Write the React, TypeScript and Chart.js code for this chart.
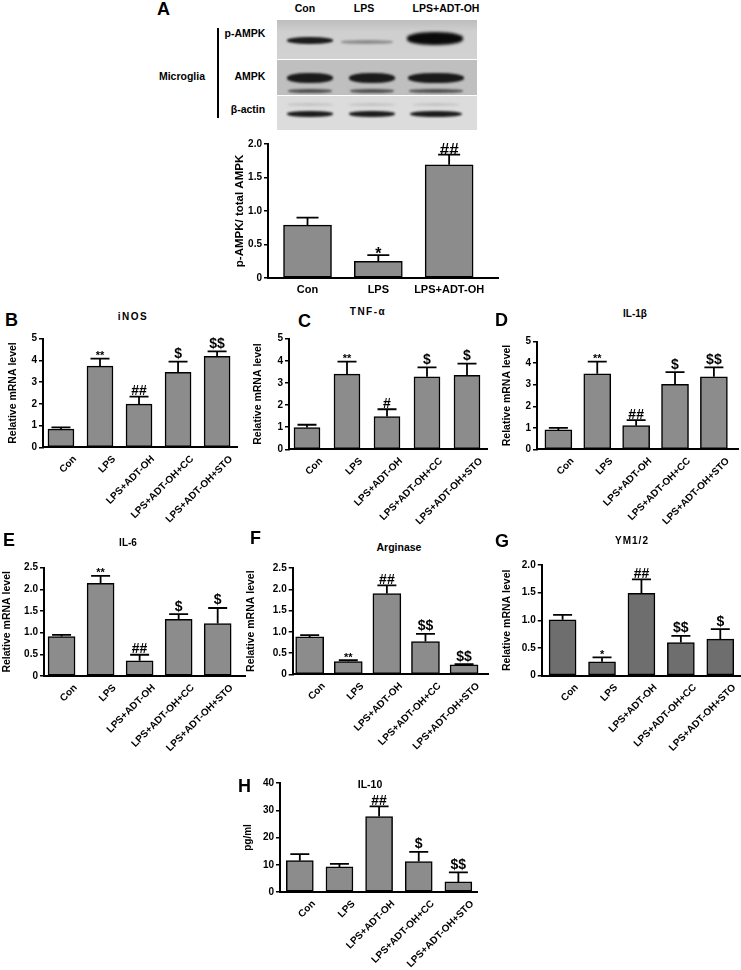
import React, { useEffect, useRef } from "react";
import { Chart, registerables } from "chart.js";

Chart.register(...registerables);

const FONT = "'Liberation Sans', Arial, Helvetica, sans-serif";
Chart.defaults.font.family = FONT;
Chart.defaults.color = "#000";

// ---------------- DATA ----------------
const blotLanes = ["Con", "LPS", "LPS+ADT-OH"];
const blotRows = ["p-AMPK", "AMPK", "β-actin"];

const groupsA = ["Con", "LPS", "LPS+ADT-OH"];
const pAmpkMean = [0.79, 0.25, 1.69];
const pAmpkSem = [0.11, 0.09, 0.15];
const pAmpkSig = ["", "*", "##"];
const ticksA = [0, 0.5, 1.0, 1.5, 2.0];
const tickTextA = ["0", "0.5", "1.0", "1.5", "2.0"];

const groups = ["Con", "LPS", "LPS+ADT-OH", "LPS+ADT-OH+CC", "LPS+ADT-OH+STO"];

const inosMean = [0.84, 3.74, 1.99, 3.45, 4.19];
const inosSem = [0.08, 0.34, 0.34, 0.49, 0.23];
const inosSig = ["", "**", "##", "$", "$$"];

const tnfMean = [0.98, 3.4, 1.48, 3.28, 3.34];
const tnfSem = [0.13, 0.56, 0.33, 0.42, 0.53];
const tnfSig = ["", "**", "#", "$", "$"];

const il1bMean = [0.9, 3.51, 1.1, 3.02, 3.37];
const il1bSem = [0.1, 0.56, 0.26, 0.57, 0.44];
const il1bSig = ["", "**", "##", "$", "$$"];

const il6Mean = [0.91, 2.14, 0.35, 1.31, 1.21];
const il6Sem = [0.04, 0.17, 0.14, 0.12, 0.36];
const il6Sig = ["", "**", "##", "$", "$"];

const argMean = [0.88, 0.3, 1.9, 0.77, 0.22];
const argSem = [0.04, 0.03, 0.19, 0.18, 0.02];
const argSig = ["", "**", "##", "$$", "$$"];

const ymMean = [1.01, 0.25, 1.49, 0.6, 0.66];
const ymSem = [0.09, 0.08, 0.25, 0.12, 0.18];
const ymSig = ["", "*", "##", "$$", "$"];

const il10Mean = [11.5, 9.2, 27.7, 11.2, 3.7];
const il10Sem = [2.4, 1.1, 3.7, 3.5, 3.5];
const il10Sig = ["", "", "##", "$", "$$"];

const ticks5 = [0, 1, 2, 3, 4, 5];
const tickText5 = ["0", "1", "2", "3", "4", "5"];
const ticks25 = [0, 0.5, 1.0, 1.5, 2.0, 2.5];
const tickText25 = ["0", "0.5", "1.0", "1.5", "2.0", "2.5"];
const ticks20 = [0, 0.5, 1.0, 1.5, 2.0];
const tickText20 = ["0", "0.5", "1.0", "1.5", "2.0"];
const ticks40 = [0, 10, 20, 30, 40];
const tickText40 = ["0", "10", "20", "30", "40"];

// ---------------- COMPONENTS ----------------
type Box = { cl: number; ct: number; cr: number; cb: number; pl: number; pr: number; pt: number; pb: number };

type PanelProps = {
  labels: string[];
  mean: number[];
  sem: number[];
  sig: string[];
  ticks: number[];
  tickText: string[];
  yTitle: string;
  yTitleSize: number;
  box: Box;
  xMin: number;
  xMax: number;
  barW: number;
  capHalf: number;
  color: string;
  rotate: number;
  xFont: number;
  xPad: number;
  xOffset: number;
  starFont: number;
  hashFont: number;
  dollarFont: number;
  gap: number;
};

function BarPanel(p: PanelProps) {
  const ref = useRef<HTMLCanvasElement>(null);
  const { cl, ct, cr, cb } = p.box;
  useEffect(() => {
    const { cl, ct, cr, cb, pl, pr, pt, pb } = p.box;
    const xAxisBottom = cb;
    const errPlugin = {
      id: "errAnn",
      afterDatasetsDraw(chart: any) {
        const ctx = chart.ctx;
        const meta = chart.getDatasetMeta(0);
        const ys = chart.scales.y;
        ctx.save();
        ctx.strokeStyle = "#000";
        ctx.fillStyle = "#000";
        ctx.lineWidth = 1.8;
        meta.data.forEach((bar: any, i: number) => {
          const x = bar.x;
          const top = bar.y;
          const et = ys.getPixelForValue(p.mean[i] + p.sem[i]);
          ctx.beginPath();
          ctx.moveTo(x, top);
          ctx.lineTo(x, et);
          ctx.moveTo(x - p.capHalf, et);
          ctx.lineTo(x + p.capHalf, et);
          ctx.stroke();
          const s = p.sig[i];
          if (s) {
            const fs = s.includes("*") ? p.starFont : s.includes("#") ? p.hashFont : p.dollarFont;
            ctx.font = `bold ${fs}px ${FONT}`;
            ctx.textAlign = "center";
            ctx.textBaseline = "alphabetic";
            const m = ctx.measureText(s);
            const g = s.includes("*") ? p.gap + 1 : p.gap;
            const base = et - g - m.actualBoundingBoxDescent;
            ctx.fillText(s, x, base);
          }
        });
        ctx.restore();
      },
    };
    const chart = new Chart(ref.current as HTMLCanvasElement, {
      type: "bar",
      data: {
        datasets: [
          {
            data: p.mean.map((v, i) => ({ x: i, y: v })),
            backgroundColor: p.color,
            borderColor: "#000",
            borderWidth: 1.5,
            borderSkipped: false,
            barThickness: p.barW,
          } as any,
        ],
      },
      options: {
        responsive: false,
        animation: false,
        events: [],
        layout: { padding: { left: 0, top: pt - ct, right: cr - pr, bottom: 0 } },
        plugins: { legend: { display: false }, tooltip: { enabled: false } },
        scales: {
          x: {
            type: "linear",
            min: p.xMin,
            max: p.xMax,
            offset: false,
            afterBuildTicks: (s: any) => {
              s.ticks = p.labels.map((_, i) => ({ value: i }));
            },
            afterFit: (s: any) => {
              s.height = xAxisBottom - pb;
            },
            grid: { display: false, drawTicks: false, offset: false },
            border: { display: true, color: "#000", width: 2 },
            ticks: {
              autoSkip: false,
              maxRotation: p.rotate,
              minRotation: p.rotate,
              padding: p.xPad,
              labelOffset: p.xOffset,
              color: "#000",
              font: { family: FONT, size: p.xFont, weight: "bold" },
              callback: (v: any) => p.labels[Math.round(Number(v))] ?? "",
            },
          },
          y: {
            min: 0,
            max: p.ticks[p.ticks.length - 1],
            afterBuildTicks: (s: any) => {
              s.ticks = p.ticks.map((v) => ({ value: v }));
            },
            afterFit: (s: any) => {
              s.width = pl - cl;
            },
            grid: { drawOnChartArea: false, drawTicks: true, tickLength: 4, color: "#000", lineWidth: 1.5 },
            border: { display: true, color: "#000", width: 2 },
            ticks: {
              padding: 2,
              color: "#000",
              font: { family: FONT, size: 10, weight: "bold" },
              callback: (v: any) => {
                const idx = p.ticks.findIndex((t) => Math.abs(t - Number(v)) < 1e-9);
                return idx >= 0 ? p.tickText[idx] : "";
              },
            },
            title: {
              display: true,
              text: p.yTitle,
              color: "#000",
              padding: 0,
              font: { family: FONT, size: p.yTitleSize, weight: "bold" },
            },
          },
        },
      } as any,
      plugins: [errPlugin],
    });
    return () => chart.destroy();
  }, []);
  return (
    <canvas
      ref={ref}
      width={cr - cl}
      height={cb - ct}
      style={{ position: "absolute", left: cl, top: ct, width: cr - cl, height: cb - ct }}
    />
  );
}

function T(props: { x: number; y: number; text: string; size: number; spacing?: number; align?: "center" | "left" }) {
  const { x, y, text, size, spacing = 0, align = "center" } = props;
  return (
    <div
      style={{
        position: "absolute",
        left: x,
        top: y,
        transform: align === "center" ? "translate(-50%, -50%)" : "translate(0, -50%)",
        fontFamily: FONT,
        fontWeight: "bold",
        fontSize: size,
        lineHeight: 1,
        letterSpacing: spacing,
        whiteSpace: "nowrap",
        color: "#000",
      }}
    >
      {text}
    </div>
  );
}

function Band(props: { cx: number; cy: number; w: number; h: number; c: string; blur?: number }) {
  const { cx, cy, w, h, c, blur = 1.2 } = props;
  return (
    <div
      style={{
        position: "absolute",
        left: cx - w / 2,
        top: cy - h / 2,
        width: w,
        height: h,
        background: c,
        borderRadius: "45%",
        filter: `blur(${blur}px)`,
      }}
    />
  );
}

function Blot() {
  const laneX = [310, 372, 436];
  const headerX = [305, 364, 446];
  const rowY = [33, 76, 109];
  const rowLabelX = [245, 250, 248];
  return (
    <>
      <T x={157} y={9} text="A" size={18} align="left" />
      {blotLanes.map((l, i) => (
        <T key={l} x={headerX[i]} y={8} text={l} size={10.5} />
      ))}
      {blotRows.map((r, i) => (
        <T key={r} x={rowLabelX[i]} y={rowY[i]} text={r} size={10.5} />
      ))}
      <T x={182} y={76} text="Microglia" size={10.5} />
      <div style={{ position: "absolute", left: 217, top: 28, width: 2, height: 90, background: "#000" }} />
      <div
        style={{
          position: "absolute",
          left: 277,
          top: 20,
          width: 200,
          height: 39,
          background: "linear-gradient(180deg, #bdbdbd 0%, #cfcfcf 30%, #d2d2d2 100%)",
        }}
      />
      <div style={{ position: "absolute", left: 277, top: 60, width: 200, height: 35, background: "#bfbfbf" }} />
      <div style={{ position: "absolute", left: 277, top: 96, width: 200, height: 34, background: "#dcdcdc" }} />
      <div style={{ position: "absolute", left: 277, top: 20, width: 200, height: 110, overflow: "hidden" }}>
        <div style={{ position: "absolute", left: -277, top: -20, width: 741, height: 200 }}>
          <Band cx={310} cy={40.5} w={46} h={7} c="#1c1c1c" />
          <Band cx={367} cy={41.5} w={52} h={4} c="#8d8d8d" />
          <Band cx={435} cy={38.5} w={56} h={13} c="#0a0a0a" blur={1.5} />
          {laneX.map((x, i) => (
            <Band key={"a" + i} cx={x} cy={78} w={i === 2 ? 56 : 46} h={10} c="#1a1a1a" />
          ))}
          {laneX.map((x, i) => (
            <Band key={"b" + i} cx={x} cy={91} w={i === 2 ? 54 : 44} h={4} c="#505050" />
          ))}
          {laneX.map((x, i) => (
            <Band key={"c" + i} cx={x} cy={104} w={46} h={3} c="#c4c4c4" />
          ))}
          {laneX.map((x, i) => (
            <Band key={"d" + i} cx={x} cy={114} w={i === 2 ? 52 : 46} h={6} c="#1c1c1c" />
          ))}
        </div>
      </div>
    </>
  );
}

const common = {
  capHalf: 9.5,
  color: "#8c8c8c",
  rotate: 45,
  xFont: 10,
  xPad: 6,
  xOffset: 14,
  starFont: 11,
  hashFont: 14,
  dollarFont: 14,
  gap: 1.5,
  yTitleSize: 10.5,
};

export default function App() {
  return (
    <div style={{ position: "absolute", left: 0, top: 0, width: 741, height: 970, background: "#fff" }}>
      <Blot />
      <BarPanel
        {...common}
        labels={groupsA}
        mean={pAmpkMean}
        sem={pAmpkSem}
        sig={pAmpkSig}
        ticks={ticksA}
        tickText={tickTextA}
        yTitle="p-AMPK/ total AMPK"
        yTitleSize={11.5}
        box={{ cl: 233, ct: 125, cr: 510, cb: 305, pl: 268, pr: 498, pt: 144, pb: 278 }}
        xMin={-0.558}
        xMax={2.69}
        barW={48}
        capHalf={11}
        rotate={0}
        xFont={11}
        xPad={5}
        xOffset={0}
        starFont={16}
        hashFont={17}
        gap={0}
      />

      <T x={5} y={320} text="B" size={18} align="left" />
      <T x={133} y={317} text="iNOS" size={10} spacing={1.5} />
      <BarPanel
        {...common}
        labels={groups}
        mean={inosMean}
        sem={inosSem}
        sig={inosSig}
        ticks={ticks5}
        tickText={tickText5}
        yTitle="Relative mRNA level"
        box={{ cl: 7, ct: 300, cr: 248, cb: 535, pl: 43, pr: 237, pt: 338.7, pb: 447.3 }}
        xMin={-0.46}
        xMax={4.51}
        barW={26}
      />

      <T x={298} y={321} text="C" size={18} align="left" />
      <T x={368} y={312} text="TNF-α" size={10} spacing={1.5} />
      <BarPanel
        {...common}
        labels={groups}
        mean={tnfMean}
        sem={tnfSem}
        sig={tnfSig}
        ticks={ticks5}
        tickText={tickText5}
        yTitle="Relative mRNA level"
        box={{ cl: 252, ct: 300, cr: 495, cb: 535, pl: 289, pr: 487, pt: 338.7, pb: 449.3 }}
        xMin={-0.45}
        xMax={4.5}
        barW={26}
      />

      <T x={495} y={320} text="D" size={18} align="left" />
      <T x={635} y={314} text="IL-1β" size={10} />
      <BarPanel
        {...common}
        labels={groups}
        mean={il1bMean}
        sem={il1bSem}
        sig={il1bSig}
        ticks={ticks5}
        tickText={tickText5}
        yTitle="Relative mRNA level"
        box={{ cl: 501, ct: 300, cr: 741, cb: 535, pl: 537, pr: 738, pt: 341.7, pb: 449.3 }}
        xMin={-0.55}
        xMax={4.62}
        barW={27}
      />

      <T x={3} y={540} text="E" size={18} align="left" />
      <T x={128} y={543} text="IL-6" size={10} />
      <BarPanel
        {...common}
        labels={groups}
        mean={il6Mean}
        sem={il6Sem}
        sig={il6Sig}
        ticks={ticks25}
        tickText={tickText25}
        yTitle="Relative mRNA level"
        box={{ cl: 1, ct: 530, cr: 248, cb: 770, pl: 44, pr: 245, pt: 567.7, pb: 676 }}
        xMin={-0.45}
        xMax={4.7}
        barW={27}
      />

      <T x={250} y={538} text="F" size={18} align="left" />
      <T x={399} y={547} text="Arginase" size={10.5} />
      <BarPanel
        {...common}
        labels={groups}
        mean={argMean}
        sem={argSem}
        sig={argSig}
        ticks={ticks25}
        tickText={tickText25}
        yTitle="Relative mRNA level"
        box={{ cl: 245, ct: 530, cr: 495, cb: 770, pl: 292.7, pr: 488, pt: 568, pb: 674.3 }}
        xMin={-0.44}
        xMax={4.62}
        barW={28}
      />

      <T x={495} y={541} text="G" size={18} align="left" />
      <T x={632} y={541} text="YM1/2" size={10} spacing={1} />
      <BarPanel
        {...common}
        labels={groups}
        mean={ymMean}
        sem={ymSem}
        sig={ymSig}
        ticks={ticks20}
        tickText={tickText20}
        yTitle="Relative mRNA level"
        color="#6e6e6e"
        box={{ cl: 501, ct: 530, cr: 741, cb: 770, pl: 541.7, pr: 740, pt: 565, pb: 675.7 }}
        xMin={-0.53}
        xMax={4.5}
        barW={27}
      />

      <T x={238} y={786} text="H" size={18} align="left" />
      <T x={370} y={784} text="IL-10" size={10.5} />
      <BarPanel
        {...common}
        labels={groups}
        mean={il10Mean}
        sem={il10Sem}
        sig={il10Sig}
        ticks={ticks40}
        tickText={tickText40}
        yTitle="pg/ml"
        yTitleSize={10}
        box={{ cl: 242, ct: 760, cr: 490, cb: 970, pl: 280, pr: 477, pt: 783, pb: 892 }}
        xMin={-0.5}
        xMax={4.47}
        barW={27}
      />
    </div>
  );
}
